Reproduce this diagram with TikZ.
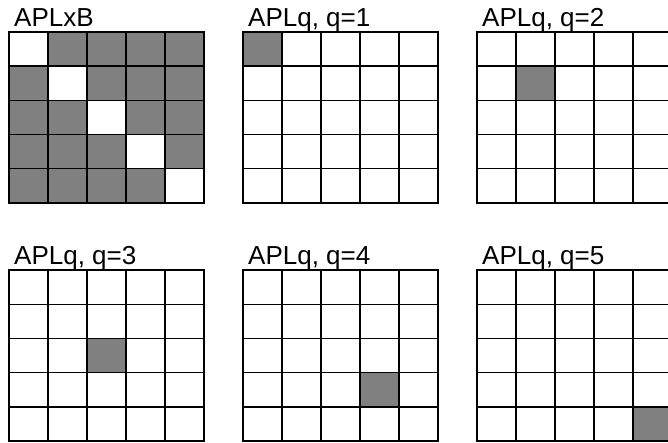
\documentclass[tikz,border=0pt]{standalone}
\usepackage{fontspec}
\setmainfont{Liberation Sans}
\usetikzlibrary{positioning}

\begin{document}
\begin{tikzpicture}[
x=1pt, y=-1pt,
cellbox/.style={draw, line width=1.4pt},
hitbox/.style={fill=gray},
freebox/.style={fill=white},
title/.style={anchor=base west, inner sep=0pt, font=\fontsize{26}{30}\selectfont}
]
\useasboundingbox[fill=white] (0,0) rectangle (668,443);

% one 5x5 grid per panel, q=0 means the full APLxB pattern
\foreach \gx/\gy/\q/\lbl in {9/32/0/{APLxB}, 243/32/1/{APLq, q=1}, 477/32/2/{APLq, q=2},
                             9/270/3/{APLq, q=3}, 243/270/4/{APLq, q=4}, 477/270/5/{APLq, q=5}} {
  \node[title] (lbl\q) at (\gx+5,\gy-5) {\lbl};
  \ifnum\q=0
    \fill[hitbox] (\gx,\gy) rectangle ++(195,171);
    \foreach \k in {1,...,5}
      \fill[freebox] ({\gx+(\k-1)*39},{\gy+(\k-1)*34.2}) rectangle ++(39,34.2);
  \else
    \fill[hitbox] ({\gx+(\q-1)*39},{\gy+(\q-1)*34.2}) rectangle ++(39,34.2);
  \fi
  \foreach \i in {1,...,5}
    \foreach \j in {1,...,5}
      \draw[cellbox] ({\gx+(\i-1)*39},{\gy+(\j-1)*34.2}) rectangle ++(39,34.2);
}
\end{tikzpicture}
\end{document}
